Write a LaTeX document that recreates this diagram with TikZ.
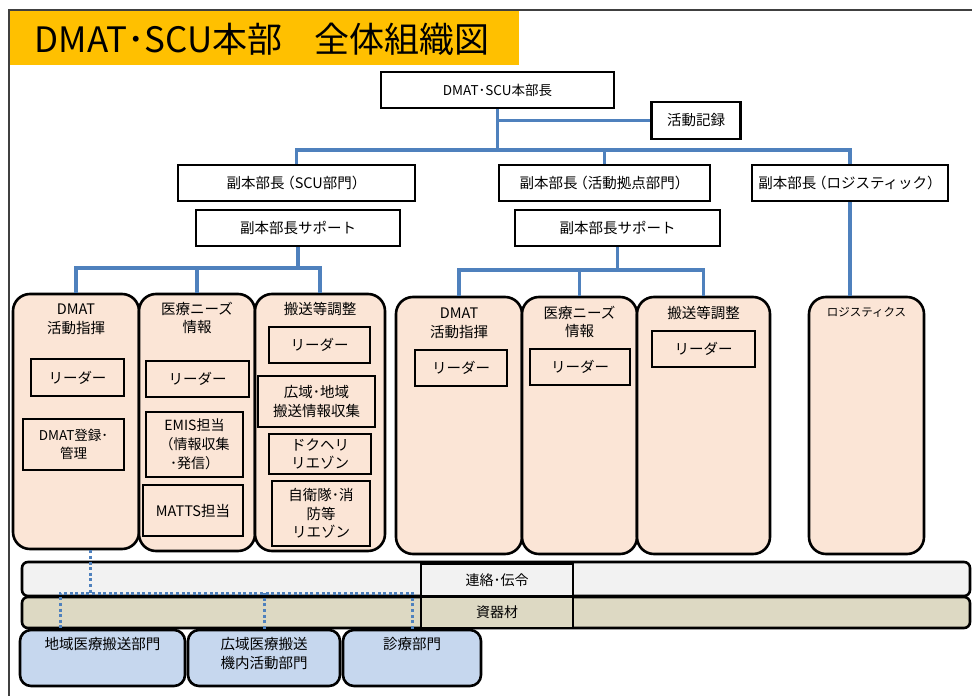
\documentclass[tikz,border=0pt]{standalone}
\usepackage{fontspec}
\setmainfont{Noto Sans CJK JP}
\definecolor{peach}{HTML}{FBE5D6}
\definecolor{barGray}{HTML}{F2F2F2}
\definecolor{barTan}{HTML}{DDD9C3}
\definecolor{lblue}{HTML}{C6D7EE}
\definecolor{lineBlue}{HTML}{4F81BD}
\definecolor{titleYellow}{HTML}{FFC000}
\newcommand{\lpar}{\kern-0.3em（}
\begin{document}
\begin{tikzpicture}[x=1pt,y=-1pt,
  box/.style={draw=black, line width=2.6pt, fill=white, rectangle, inner sep=0pt, align=center,
    font=\fontsize{14.5}{18.5}\selectfont},
  ibox/.style={box, fill=peach},
  group/.style={draw=black, line width=2.6pt, fill=peach, rectangle, rounded corners=17pt, inner sep=0pt},
  gtitle/.style={anchor=north, align=center, font=\fontsize{14.5}{18.5}\selectfont, inner sep=0pt},
  conn/.style={draw=lineBlue, line width=3.2pt},
  dots/.style={draw=lineBlue, line width=3pt, dash pattern=on 3pt off 2.6pt},
  bar/.style={draw=black, line width=2.6pt, rectangle, rounded corners=6pt, inner sep=0pt},
  lbox/.style={draw=black, line width=2.6pt, rectangle, inner sep=0pt, font=\fontsize{14}{18}\selectfont},
  bbox/.style={draw=black, line width=2.6pt, fill=lblue, rectangle, rounded corners=11pt, inner sep=0pt},
  btext/.style={anchor=north, align=center, font=\fontsize{14.5}{19.5}\selectfont, inner sep=0pt}
]
\useasboundingbox (0,0) rectangle (972,696);
% frame and title
\fill[titleYellow] (9,11) rectangle (519,65);
\draw[black!75, line width=2.4pt] (972,10) -- (9,10) -- (9,696);
\node[font=\fontsize{35}{38}\selectfont, inner sep=0pt] (title) at (262,39) {DMAT･SCU本部\hspace{0.9em}全体組織図};

% top levels
\node[box, minimum width=233pt, minimum height=36pt, font=\fontsize{13.5}{16}\selectfont] (head) at (497.5,90) {DMAT･SCU本部長};
\node[box, minimum width=89pt, minimum height=37pt] (rec) at (696,120.5) {活動記録};
\node[box, minimum width=237pt, minimum height=36pt] (vice1) at (296.5,183) {副本部長\lpar SCU部門）};
\node[box, minimum width=211pt, minimum height=36pt] (vice2) at (604.5,183) {副本部長\lpar 活動拠点部門）};
\node[box, minimum width=196pt, minimum height=36pt] (vice3) at (850,183) {副本部長\lpar ロジスティック）};
\node[box, minimum width=204pt, minimum height=36pt] (supL) at (298,228) {副本部長サポート};
\node[box, minimum width=205pt, minimum height=36pt] (supR) at (617.5,228) {副本部長サポート};

% groups left
\node[group, minimum width=126pt, minimum height=255pt] (g1) at (76,421.5) {};
\node[group, minimum width=116pt, minimum height=257pt] (g2) at (197,422.5) {};
\node[group, minimum width=130pt, minimum height=257pt] (g3) at (320,422.5) {};
% groups right
\node[group, minimum width=126pt, minimum height=257pt] (g4) at (459,425.5) {};
\node[group, minimum width=115pt, minimum height=257pt] (g5) at (579.5,425.5) {};
\node[group, minimum width=133pt, minimum height=257pt] (g6) at (703.5,425.5) {};
\node[group, minimum width=115pt, minimum height=257pt] (g7) at (866.5,425.5) {};

\node[gtitle] (t1) at ([yshift=-11pt]g1.north) {DMAT\\活動指揮};
\node[gtitle] (t2) at ([yshift=-9pt]g2.north) {医療ニーズ\\情報};
\node[gtitle] (t3) at ([yshift=-9pt]g3.north) {搬送等調整};
\node[gtitle] (t4) at ([yshift=-12pt]g4.north) {DMAT\\活動指揮};
\node[gtitle] (t5) at ([yshift=-10pt]g5.north) {医療ニーズ\\情報};
\node[gtitle] (t6) at ([yshift=-10pt]g6.north) {搬送等調整};
\node[gtitle, font=\fontsize{11.5}{14}\selectfont] (t7) at ([yshift=-11pt]g7.north) {ロジスティクス};

% inner boxes left
\node[ibox, minimum width=93pt, minimum height=37pt] (l1) at (77.5,377.5) {リーダー};
\node[ibox, minimum width=101pt, minimum height=51pt, font=\fontsize{13.5}{18.5}\selectfont] (l2) at (73.5,444.5) {DMAT登録･\\管理};
\node[ibox, minimum width=103pt, minimum height=36pt] (m1) at (197.5,379) {リーダー};
\node[ibox, minimum width=97pt, minimum height=65pt, font=\fontsize{14}{19}\selectfont] (m2) at (194.5,444.5) {EMIS担当\\（情報収集\\･発信）};
\node[ibox, minimum width=100pt, minimum height=51pt] (m3) at (193,510.5) {MATTS担当};
\node[ibox, minimum width=101pt, minimum height=36pt] (h1) at (319.5,345) {リーダー};
\node[ibox, minimum width=117pt, minimum height=51pt] (h2) at (316.5,401.5) {広域･地域\\搬送情報収集};
\node[ibox, minimum width=102pt, minimum height=40pt] (h3) at (320,454) {ドクヘリ\\リエゾン};
\node[ibox, minimum width=98pt, minimum height=65pt] (h4) at (321,513.5) {自衛隊･消\\防等\\リエゾン};
% inner boxes right
\node[ibox, minimum width=92pt, minimum height=36pt] (r1) at (461,368) {リーダー};
\node[ibox, minimum width=100pt, minimum height=36pt] (r2) at (580,367) {リーダー};
\node[ibox, minimum width=103pt, minimum height=36pt] (r3) at (703.5,349) {リーダー};

% connectors
\coordinate (bus) at (0,150);
\coordinate (busL) at (0,268);
\coordinate (busR) at (0,270);
\draw[conn] (head.south) -- (head.south |- bus);
\draw[conn] (head.south |- rec.west) -- (rec.west);
\draw[conn] (vice1.north) |- (vice3.north |- bus) -- (vice3.north);
\draw[conn] (vice2.north) -- (vice2.north |- bus);
\draw[conn] (supL.south) -- (supL.south |- busL);
\draw[conn] (g1.north) |- (g3.north |- busL) -- (g3.north);
\draw[conn] (g2.north) -- (g2.north |- busL);
\draw[conn] (supR.south) -- (supR.south |- busR);
\draw[conn] (g4.north) |- (g6.north |- busR) -- (g6.north);
\draw[conn] (g5.north) -- (g5.north |- busR);
\draw[conn] (vice3.south) -- (vice3.south |- g7.north);

% bars
\node[bar, fill=barGray, minimum width=948pt, minimum height=34pt] (bar1) at (496,579) {};
\node[bar, fill=barTan, minimum width=948pt, minimum height=31pt] (bar2) at (496,612.5) {};
\node[lbox, fill=barGray, minimum width=152pt, minimum height=32pt] (renraku) at (497,580) {連絡･伝令};
\node[lbox, fill=barTan, minimum width=152pt, minimum height=31pt] (shiki) at (497,612.5) {資器材};

% bottom boxes
\node[bbox, minimum width=165pt, minimum height=56pt] (b1) at (102.5,658) {};
\node[bbox, minimum width=152pt, minimum height=56pt] (b2) at (264,658) {};
\node[bbox, minimum width=138pt, minimum height=56pt] (b3) at (412,658) {};
\node[btext] (bt1) at ([yshift=-8pt]b1.north) {地域医療搬送部門};
\node[btext] (bt2) at ([yshift=-8pt]b2.north) {広域医療搬送\\機内活動部門};
\node[btext] (bt3) at ([yshift=-8pt]b3.north) {診療部門};

% dotted links
\coordinate (dL) at (60,593);
\draw[dots] ([xshift=14pt]g1.south) -- ([xshift=14pt]g1.south |- dL);
\draw[dots] (b3.north) |- (dL) -- (dL |- b1.north);
\draw[dots] (b2.north) -- (b2.north |- dL);
\end{tikzpicture}
\end{document}
